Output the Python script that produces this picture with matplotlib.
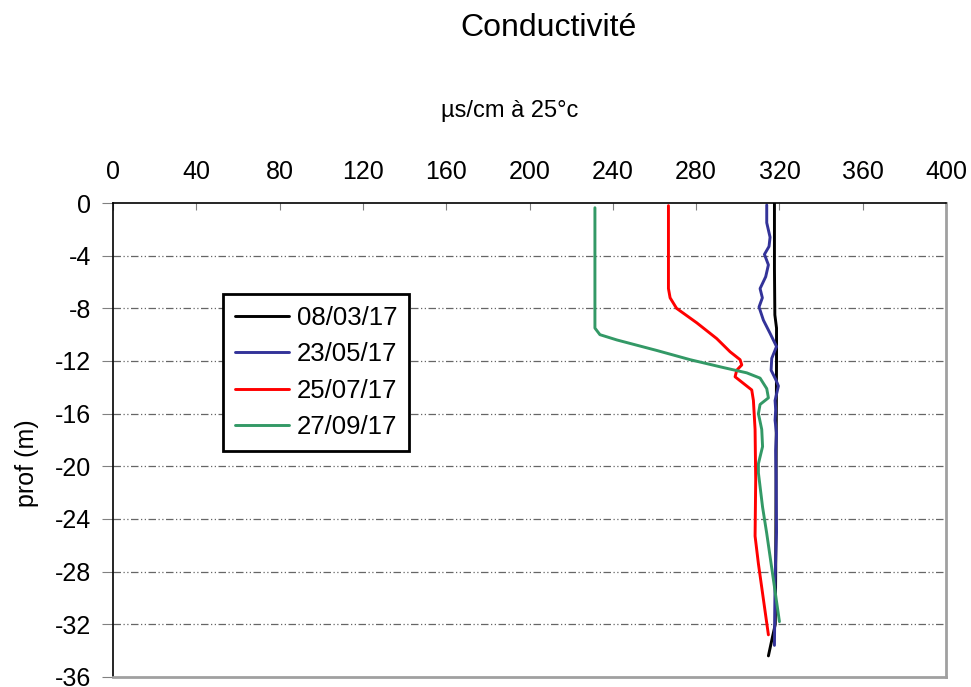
import matplotlib
matplotlib.use("Agg")
import matplotlib.pyplot as plt

plt.rcParams['font.family'] = ['Liberation Sans', 'DejaVu Sans']

# Conductivity profiles (µS/cm at 25 °C) versus depth (m)
d_0803 = [0.0, -2.0, -5.0, -8.5, -9.5, -12.0, -16.0, -20.0, -24.0, -28.0, -32.0, -33.0, -34.4]
c_0803 = [317.6, 317.6, 317.6, 317.8, 318.6, 318.6, 318.5, 318.4, 318.3, 318.2, 318.0, 316.6, 314.7]

d_2305 = [-0.15, -1.5, -2.6, -3.3, -3.9, -4.7, -5.6, -6.5, -7.2, -7.9, -8.9, -9.9, -10.9,
          -11.8, -12.7, -13.4, -13.9, -15.0, -15.7, -16.5, -17.5, -18.8, -21.0, -25.0,
          -28.6, -33.6]
c_2305 = [313.9, 313.9, 315.5, 315.0, 312.8, 314.7, 313.4, 310.7, 311.8, 310.2, 312.3, 315.5, 318.6,
          316.3, 316.0, 318.2, 319.5, 317.9, 318.2, 317.9, 318.6, 318.2, 318.4, 318.6,
          317.9, 317.6]

d_2507 = [-0.2, -6.5, -7.2, -8.0, -9.1, -10.3, -11.3, -11.9, -12.3, -12.7, -13.2, -13.7,
          -14.2, -15.0, -17.2, -21.0, -25.3, -27.4, -32.8]
c_2507 = [266.7, 266.7, 267.5, 270.6, 280.3, 289.9, 296.3, 301.1, 301.9, 299.5, 298.7, 302.7,
          306.7, 307.5, 308.3, 308.6, 308.3, 309.9, 314.7]

d_2709 = [-0.36, -8.1, -9.5, -10.0, -10.4, -11.2, -11.9, -12.5, -12.9, -13.3, -14.1, -14.8,
          -15.3, -16.0, -17.2, -18.5, -19.8, -20.5, -23.1, -25.1, -28.6, -31.8]
c_2709 = [231.4, 231.4, 231.4, 233.8, 241.9, 261.1, 277.1, 293.1, 304.3, 310.7, 313.9, 314.7,
          310.7, 309.9, 311.5, 311.9, 309.9, 309.9, 311.9, 313.9, 317.1, 320.0]

series = [
    ("08/03/17", c_0803, d_0803, "#000000"),
    ("23/05/17", c_2305, d_2305, "#333399"),
    ("25/07/17", c_2507, d_2507, "#ff0000"),
    ("27/09/17", c_2709, d_2709, "#339966"),
]

x_ticks = list(range(0, 401, 40))
y_ticks = list(range(0, -37, -4))

fig = plt.figure(figsize=(9.71, 6.87), dpi=100)
ax = fig.add_axes([0.1164, 0.0146, 0.8579, 0.6899])

for label, c, d, col in series:
    ax.plot(c, d, color=col, lw=2.1, label=label,
            solid_joinstyle='round', solid_capstyle='round')

ax.set_xlim(0, 400)
ax.set_ylim(-36, 0)
ax.set_xticks(x_ticks)
ax.set_yticks(y_ticks)
ax.set_yticklabels([str(v) for v in y_ticks])

ax.xaxis.tick_top()
ax.tick_params(axis='x', direction='in', length=5, color='#808080', labelsize=18, pad=14)
ax.tick_params(axis='y', direction='out', length=8, color='#808080', labelsize=18, pad=8)

for y in y_ticks[1:-1]:
    ax.axhline(y, color='#666666', lw=0.9, dashes=(6, 2, 1, 2, 1, 2), zorder=0)

ax.spines['left'].set_color('black')
ax.spines['top'].set_color('black')
ax.spines['right'].set_color('#a0a0a0')
ax.spines['bottom'].set_color('#a0a0a0')
for s in ax.spines.values():
    s.set_linewidth(1.2)
ax.spines['right'].set_linewidth(2)
ax.spines['bottom'].set_linewidth(2)

fig.text(548 / 971, 1 - 28 / 687, "Conductivité", ha='center', va='center', fontsize=23)
fig.text(510 / 971, 1 - 111 / 687, "µs/cm à 25°c", ha='center', va='center', fontsize=17)
fig.text(27 / 971, 1 - 463 / 687, "prof (m)", ha='center', va='center', fontsize=18,
         rotation=90)

leg = ax.legend(loc='upper left', bbox_to_anchor=(0.1315, 0.8085), fontsize=18.5,
                frameon=True, fancybox=False, edgecolor='black', framealpha=1,
                handlelength=2.1, handletextpad=0.3, labelspacing=0.48,
                borderpad=0.48, borderaxespad=0)
leg.get_frame().set_linewidth(2)

fig.savefig("out.png", dpi=100)
